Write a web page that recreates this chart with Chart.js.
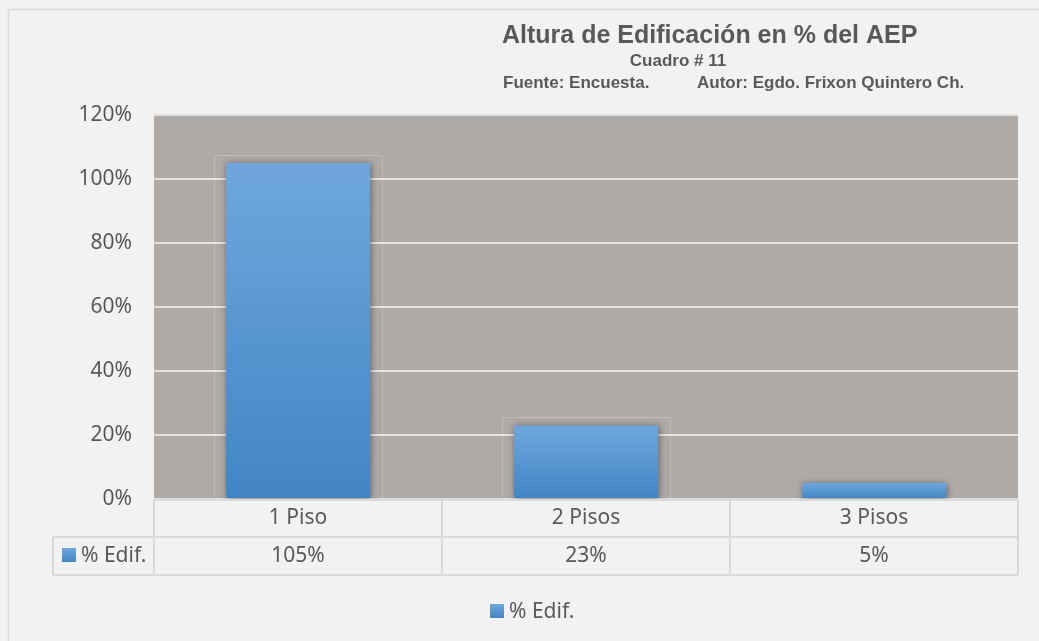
<!DOCTYPE html>
<html>
<head>
<meta charset="utf-8">
<script src="https://cdn.jsdelivr.net/npm/chart.js@4/dist/chart.umd.min.js"></script>
<style>
    html, body { margin: 0; padding: 0; background: #f2f2f2; }
    #wrap { width: 1039px; height: 641px; }
</style>
</head>
<body>
<div id="wrap"><canvas id="chart" width="1039" height="641"></canvas></div>
<script>
const categories = ["1 Piso", "2 Pisos", "3 Pisos"];
const seriesName = "% Edif.";
const edifValues = [105, 23, 5];

const titleText = "Altura de Edificación en % del AEP";
const subTitle = "Cuadro # 11";
const sourceText = "Fuente: Encuesta.";
const authorText = "Autor: Egdo. Frixon Quintero Ch.";

const TEXT = "#595959";
const LINE = "#d9d9d9";
const PLOT_BG = "#aeaaa8";
const BODY_FONT = '"Noto Sans", "Open Sans", sans-serif';
const TITLE_FONT = '"Liberation Sans", Arial, sans-serif';

function barGradient(c, top, bottom) {
    const g = c.createLinearGradient(0, top, 0, bottom);
    g.addColorStop(0, "#6fa7dd");
    g.addColorStop(1, "#4285c5");
    return g;
}

// frame, plot background, titles
const backdrop = {
    id: "backdrop",
    beforeDraw(chart) {
        const { ctx, chartArea: a } = chart;
        ctx.save();
        ctx.fillStyle = "#f2f2f2";
        ctx.fillRect(0, 0, chart.width, chart.height);

        ctx.strokeStyle = LINE;
        ctx.lineWidth = 1.5;
        ctx.beginPath();
        ctx.moveTo(8.5, chart.height);
        ctx.lineTo(8.5, 9.5);
        ctx.lineTo(chart.width, 9.5);
        ctx.stroke();

        ctx.fillStyle = PLOT_BG;
        ctx.fillRect(a.left, a.top, a.right - a.left, a.bottom - a.top);

        ctx.fillStyle = TEXT;
        ctx.textBaseline = "middle";
        ctx.textAlign = "left";
        ctx.font = "bold 25px " + TITLE_FONT;
        ctx.fillText(titleText, 502, 36);
        ctx.font = "bold 17px " + TITLE_FONT;
        ctx.textAlign = "center";
        ctx.fillText(subTitle, 678, 61);
        ctx.textAlign = "left";
        ctx.fillText(sourceText, 503, 83);
        ctx.fillText(authorText, 697, 83);
        ctx.restore();
    }
};

// soft shadow under the bars + faint outline boxes
const barShadow = {
    id: "barShadow",
    beforeDatasetsDraw(chart) {
        const { ctx } = chart;
        const meta = chart.getDatasetMeta(0);
        ctx.save();
        ctx.strokeStyle = "rgba(255,255,255,0.2)";
        ctx.lineWidth = 1;
        meta.data.forEach(bar => {
            if (bar.base - bar.y < 30) return;
            const l = Math.round(bar.x - bar.width / 2 - 12) + 0.5;
            const r = Math.round(bar.x + bar.width / 2 + 12) + 0.5;
            const t = Math.round(bar.y - 8) + 0.5;
            ctx.beginPath();
            ctx.moveTo(l, bar.base);
            ctx.lineTo(l, t);
            ctx.lineTo(r, t);
            ctx.lineTo(r, bar.base);
            ctx.stroke();
        });
        ctx.restore();
        ctx.save();
        ctx.shadowColor = "rgba(0,0,0,0.45)";
        ctx.shadowBlur = 7;
        ctx.shadowOffsetX = 1;
        ctx.shadowOffsetY = 1;
    },
    afterDatasetsDraw(chart) {
        chart.ctx.restore();
    }
};

// data table under the plot and legend at the bottom
const dataTable = {
    id: "dataTable",
    afterDraw(chart) {
        const { ctx, chartArea: a, scales } = chart;
        const x = scales.x;
        const half = (x.getPixelForValue(1) - x.getPixelForValue(0)) / 2;
        const row1 = a.bottom + 1, row2 = row1 + 37, row3 = row2 + 38;
        const leftCol = 53;

        ctx.save();
        ctx.strokeStyle = LINE;
        ctx.lineWidth = 2;
        ctx.beginPath();
        ctx.moveTo(a.left, row1); ctx.lineTo(a.right, row1);
        ctx.moveTo(leftCol, row2); ctx.lineTo(a.right, row2);
        ctx.moveTo(leftCol, row3); ctx.lineTo(a.right, row3);
        ctx.moveTo(leftCol, row2); ctx.lineTo(leftCol, row3);
        ctx.moveTo(a.left, row1); ctx.lineTo(a.left, row3);
        categories.forEach((c, i) => {
            const edge = x.getPixelForValue(i) + half;
            ctx.moveTo(edge, row1); ctx.lineTo(edge, row3);
        });
        ctx.stroke();

        ctx.fillStyle = TEXT;
        ctx.font = "21px " + BODY_FONT;
        ctx.textAlign = "center";
        ctx.textBaseline = "middle";
        categories.forEach((c, i) => {
            const cx = x.getPixelForValue(i);
            ctx.fillText(c, cx, (row1 + row2) / 2);
            ctx.fillText(edifValues[i] + "%", cx, (row2 + row3) / 2);
        });

        // series key in the table
        ctx.fillStyle = barGradient(ctx, 548, 562);
        ctx.fillRect(62, 548, 14, 14);
        ctx.fillStyle = TEXT;
        ctx.textAlign = "left";
        ctx.fillText(seriesName, 81, (row2 + row3) / 2);

        // legend
        const lx = 490;
        ctx.fillStyle = barGradient(ctx, 604, 618);
        ctx.fillRect(lx, 604, 14, 14);
        ctx.fillStyle = TEXT;
        ctx.fillText(seriesName, lx + 19, 612);
        ctx.restore();
    }
};

new Chart(document.getElementById("chart"), {
    type: "bar",
    data: {
        labels: categories,
        datasets: [{
            label: seriesName,
            data: edifValues,
            backgroundColor: context => {
                const chart = context.chart;
                if (!chart.chartArea) return "#5b9bd5";
                const y = chart.scales.y;
                return barGradient(chart.ctx, y.getPixelForValue(context.raw), y.getPixelForValue(0));
            },
            borderWidth: 0,
            barPercentage: 0.5,
            categoryPercentage: 1.0
        }]
    },
    options: {
        responsive: false,
        animation: false,
        events: [],
        layout: { padding: { left: 0, right: 21, top: 115, bottom: 142 } },
        plugins: {
            legend: { display: false },
            tooltip: { enabled: false },
            title: { display: false }
        },
        scales: {
            x: { display: false },
            y: {
                min: 0,
                max: 120,
                afterFit: scale => { scale.width = 154; },
                border: { display: false },
                grid: { color: "#e3e1e0", lineWidth: 2, drawTicks: false },
                ticks: {
                    stepSize: 20,
                    padding: 22,
                    color: TEXT,
                    font: { family: BODY_FONT, size: 21 },
                    callback: v => v + "%"
                }
            }
        }
    },
    plugins: [backdrop, barShadow, dataTable]
});
</script>
</body>
</html>
